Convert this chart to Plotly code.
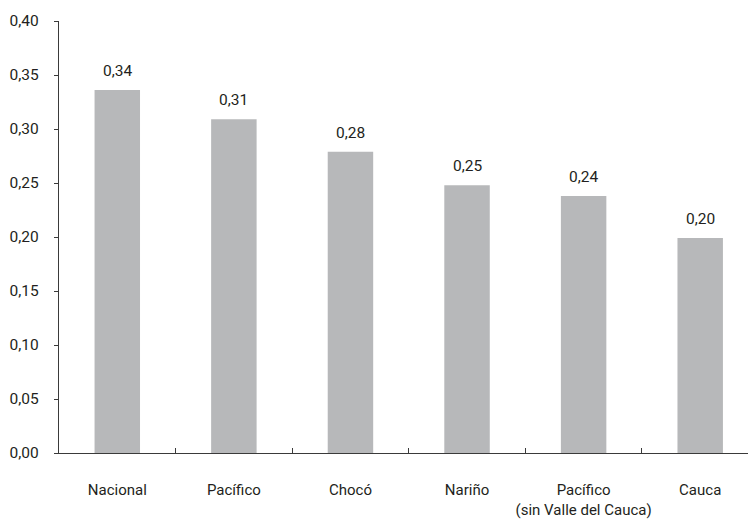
import plotly.graph_objects as go

# Regional values
categories = ["Nacional", "Pacífico", "Chocó", "Nariño",
              "Pacífico<br>(sin Valle del Cauca)", "Cauca"]
values = [0.336, 0.309, 0.279, 0.248, 0.238, 0.199]

y_ticks = [0.00, 0.05, 0.10, 0.15, 0.20, 0.25, 0.30, 0.35, 0.40]

FONT = "Roboto, Liberation Sans, sans-serif"
TEXT_COLOR = "#231f20"
BAR_COLOR = "#b7b8ba"

fig = go.Figure(
    go.Bar(
        x=categories,
        y=values,
        width=0.39,
        marker=dict(color=BAR_COLOR, line=dict(width=0)),
        hoverinfo="skip",
    )
)

# Value labels above each bar
for cat, val in zip(categories, values):
    fig.add_annotation(
        x=cat, y=val, text=f"{val:.2f}".replace(".", ","),
        showarrow=False, yanchor="bottom", yshift=8,
        font=dict(family=FONT, size=15.5, color=TEXT_COLOR),
    )

fig.update_layout(
    width=748, height=521,
    margin=dict(l=59, r=0, t=21, b=68, autoexpand=False),
    paper_bgcolor="white", plot_bgcolor="white",
    separators=",.",
    showlegend=False,
    font=dict(family=FONT, size=15.5, color=TEXT_COLOR),
)

fig.update_xaxes(
    range=[-0.5, 5.41],
    showline=True, linecolor="#3a3a3a", linewidth=1.3,
    ticks="inside", tickson="boundaries", ticklen=5,
    tickcolor="#3a3a3a", tickwidth=1,
    tickangle=0, automargin=False,
    ticklabelstandoff=23,
    tickfont=dict(size=15),
    showgrid=False, zeroline=False,
)

fig.update_yaxes(
    range=[0, 0.40], tickvals=y_ticks, tickformat=".2f",
    showline=True, linecolor="#3a3a3a", linewidth=1.3,
    ticks="outside", ticklen=4, tickcolor="#3a3a3a", tickwidth=1,
    ticklabelstandoff=12, automargin=False,
    showgrid=False, zeroline=False,
)

fig.write_html("out.html")
